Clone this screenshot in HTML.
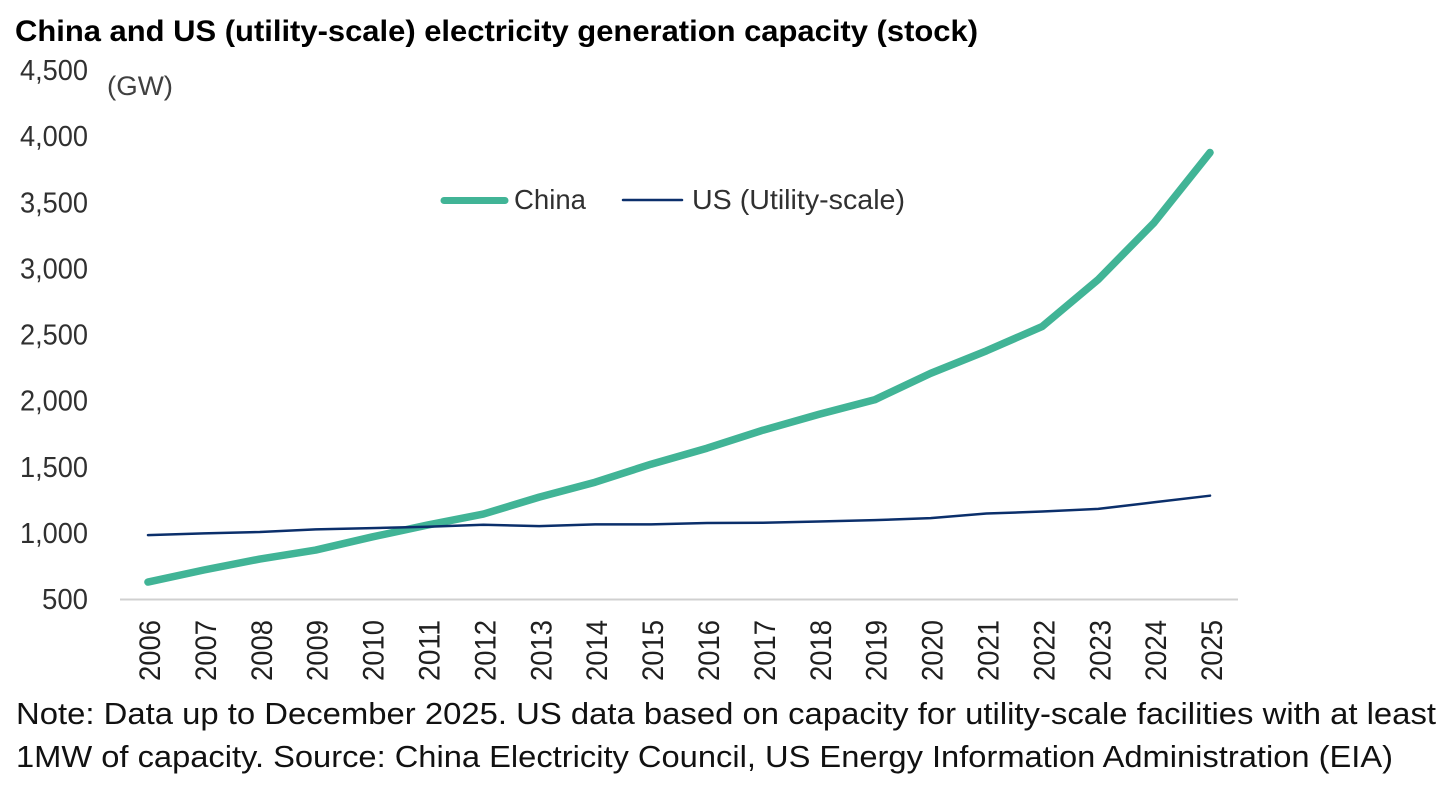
<!DOCTYPE html>
<html lang="en">
<head>
<meta charset="utf-8">
<title>China and US electricity generation capacity</title>
<style>
html,body{margin:0;padding:0;background:#fff;width:1456px;height:785px;overflow:hidden}
svg{display:block;font-family:"Liberation Sans",sans-serif}
</style>
</head>
<body>
<svg id="chart" xmlns="http://www.w3.org/2000/svg" width="1456" height="785" viewBox="0 0 1456 785">
  <rect x="0" y="0" width="1456" height="785" fill="#ffffff"/>
  <text x="15" y="41" font-size="30" font-weight="700" fill="#000" textLength="963" lengthAdjust="spacingAndGlyphs">China and US (utility-scale) electricity generation capacity (stock)</text>
  <text x="107" y="95" font-size="27" fill="#404040" textLength="66" lengthAdjust="spacingAndGlyphs">(GW)</text>
  <g id="y-axis"></g>
  <g id="x-axis"></g>
  <line x1="120" x2="1238" y1="599.5" y2="599.5" stroke="#d0d0d0" stroke-width="2"/>
  <g id="series"></g>
  <g>
    <g>
      <line x1="444" x2="505" y1="200.5" y2="200.5" stroke="#41B496" stroke-width="7" stroke-linecap="round"/>
      <text x="514" y="209" font-size="28" fill="#303030" textLength="72" lengthAdjust="spacingAndGlyphs">China</text>
    </g>
    <g>
      <line x1="623" x2="682" y1="200" y2="200" stroke="#0B2F6B" stroke-width="2.5" stroke-linecap="round"/>
      <text x="692" y="209" font-size="28" fill="#303030" textLength="213" lengthAdjust="spacingAndGlyphs">US (Utility-scale)</text>
    </g>
  </g>
  <text x="16" y="724" font-size="31" fill="#111" textLength="1420" lengthAdjust="spacingAndGlyphs">Note: Data up to December 2025. US data based on capacity for utility-scale facilities with at least</text>
  <text x="16" y="767" font-size="31" fill="#111" textLength="1377" lengthAdjust="spacingAndGlyphs">1MW of capacity. Source: China Electricity Council, US Energy Information Administration (EIA)</text>
</svg>
<script>
const years = ['2006','2007','2008','2009','2010','2011','2012','2013','2014','2015','2016','2017','2018','2019','2020','2021','2022','2023','2024','2025'];
const chinaValues = [632,723,806,874,972,1063,1146,1274,1387,1523,1644,1780,1900,2010,2210,2380,2565,2920,3350,3880];
const usValues = [987,1000,1010,1030,1040,1050,1065,1055,1068,1068,1078,1080,1090,1100,1115,1150,1165,1185,1235,1285];
const yTicks = [500,1000,1500,2000,2500,3000,3500,4000,4500];

const NS = 'http://www.w3.org/2000/svg';
const plotLeft = 120, plotRight = 1238, plotBottom = 599.5, plotTop = 70.5;
const yMin = 500, yMax = 4500;
function xScale(i) {
  return plotLeft + (plotRight - plotLeft) * (i + 0.5) / years.length;
}
function yScale(v) {
  return plotBottom - (v - yMin) / (yMax - yMin) * (plotBottom - plotTop);
}

const yAxis = document.getElementById('y-axis');
yTicks.forEach(function (t) {
  const el = document.createElementNS(NS, 'text');
  
  
  el.setAttribute('x', 88);
  el.setAttribute('y', yScale(t) + 9.5);
  el.setAttribute('text-anchor', 'end');
  el.setAttribute('font-size', 29);
  el.setAttribute('fill', '#303030');
  el.setAttribute('textLength', t >= 1000 ? 68 : 46);
  el.setAttribute('lengthAdjust', 'spacingAndGlyphs');
  el.textContent = t.toLocaleString('en-US');
  yAxis.appendChild(el);
});

const xAxis = document.getElementById('x-axis');
years.forEach(function (y, i) {
  const el = document.createElementNS(NS, 'text');
  const tx = xScale(i) + 12;
  
  
  el.setAttribute('transform', 'translate(' + tx + ',681) rotate(-90)');
  el.setAttribute('font-size', 30);
  el.setAttribute('fill', '#202020');
  el.setAttribute('textLength', 61);
  el.setAttribute('lengthAdjust', 'spacingAndGlyphs');
  el.textContent = y;
  xAxis.appendChild(el);
});

function pathFor(values) {
  return values.map(function (v, i) {
    return (i ? 'L' : 'M') + xScale(i).toFixed(2) + ' ' + yScale(v).toFixed(2);
  }).join(' ');
}
const seriesGroup = document.getElementById('series');

const chinaLine = document.createElementNS(NS, 'path');


chinaLine.setAttribute('d', pathFor(chinaValues));
chinaLine.setAttribute('fill', 'none');
chinaLine.setAttribute('stroke', '#41B496');
chinaLine.setAttribute('stroke-width', 7.5);
chinaLine.setAttribute('stroke-linecap', 'round');
chinaLine.setAttribute('stroke-linejoin', 'round');
seriesGroup.appendChild(chinaLine);

const usLine = document.createElementNS(NS, 'path');


usLine.setAttribute('d', pathFor(usValues));
usLine.setAttribute('fill', 'none');
usLine.setAttribute('stroke', '#0B2F6B');
usLine.setAttribute('stroke-width', 2.5);
usLine.setAttribute('stroke-linecap', 'round');
usLine.setAttribute('stroke-linejoin', 'round');
seriesGroup.appendChild(usLine);
</script>
</body>
</html>
